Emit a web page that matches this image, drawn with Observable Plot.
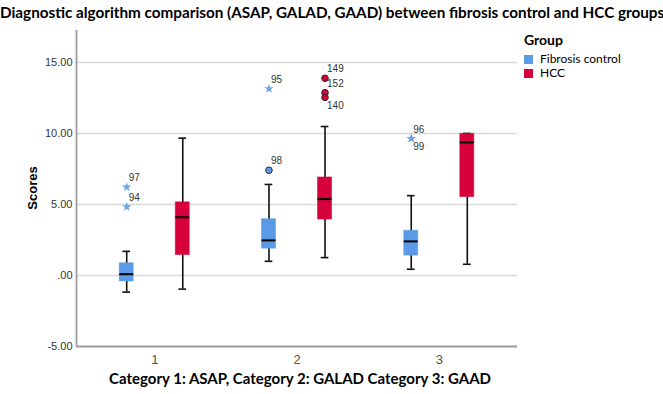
<!DOCTYPE html>
<html><head><meta charset="utf-8">
<script src="https://cdn.jsdelivr.net/npm/d3@7"></script>
<script src="https://cdn.jsdelivr.net/npm/@observablehq/plot@0.6"></script>
<style>
body{margin:0;background:#fff;}
#wrap{position:relative;width:663px;height:394px;overflow:hidden;background:#fff;}
#chart{position:absolute;left:0;top:0;}
.ov{position:absolute;white-space:nowrap;color:#000;}
#title{left:0;top:3px;width:663px;text-align:center;font:bold 15.25px Lato, "Open Sans", sans-serif;}
#xlabel{left:0;top:369px;width:600px;text-align:center;font:bold 15px Lato, "Open Sans", sans-serif;}
#ylabel{left:32px;top:188px;transform:translate(-50%,-50%) rotate(-90deg);font:bold 13px "Liberation Sans", Arial, sans-serif;}
#legend{left:524px;top:32px;font:12px Lato, "Open Sans", sans-serif;line-height:14px;}
#legend .hd{font-weight:bold;font-size:14px;line-height:16px;margin-bottom:4px;}
#legend .it{display:flex;align-items:center;height:14px;}
#legend .sw{width:9px;height:9px;margin-right:7px;flex:none;}
</style></head><body>
<div id="wrap">
<div id="chart"></div>
<div class="ov" id="title">Diagnostic algorithm comparison (ASAP, GALAD, GAAD) between fibrosis control and HCC groups</div>
<div class="ov" id="xlabel">Category 1: ASAP, Category 2: GALAD Category 3: GAAD</div>
<div class="ov" id="ylabel">Scores</div>
<div class="ov" id="legend"></div>
</div>
<script>
// ---- data ----
const categories = [1, 2, 3];
const groups = ["Fibrosis control", "HCC"];
const yTicks = [-5, 0, 5, 10, 15];

const fibLow  = [-1.17, 1.00, 0.44];
const fibQ1   = [-0.42, 1.89, 1.40];
const fibMed  = [0.09, 2.47, 2.40];
const fibQ3   = [0.86, 3.96, 3.15];
const fibHigh = [1.70, 6.41, 5.62];

const hccLow  = [-0.96, 1.26, 0.79];
const hccQ1   = [1.44, 3.94, 5.52];
const hccMed  = [4.10, 5.38, 9.37];
const hccQ3   = [5.15, 6.90, 9.97];
const hccHigh = [9.67, 10.49, 10.00];

const outlierIds   = ["97", "94", "95", "98", "149", "152", "140", "96", "99"];
const outlierCat   = [1, 1, 2, 2, 2, 2, 2, 3, 3];
const outlierGroup = ["Fibrosis control", "Fibrosis control", "Fibrosis control", "Fibrosis control", "HCC", "HCC", "HCC", "Fibrosis control", "Fibrosis control"];
const outlierValue = [6.22, 4.83, 13.15, 7.41, 13.89, 12.87, 12.54, 9.65, 9.65];
const outlierKind  = ["extreme", "extreme", "extreme", "mild", "mild", "mild", "mild", "extreme", "extreme"];

// ---- layout / style (not data) ----
const colors = {"Fibrosis control": "#5a9ae6", "HCC": "#d6003a"};
const starColor = "#6fa3e8";
const labelBelow = new Set(["140", "99"]);
const xDomain = [0.45, 3.55];
const yDomain = [-5, 17.25];
const OFF = 0.197, HALF = 0.049, CAP = 0.027;

const stats = [
  {g: groups[0], low: fibLow, q1: fibQ1, med: fibMed, q3: fibQ3, high: fibHigh},
  {g: groups[1], low: hccLow, q1: hccQ1, med: hccMed, q3: hccQ3, high: hccHigh}
];
const boxes = categories.flatMap((c, i) => stats.map(s => ({
  cat: c, group: s.g, low: s.low[i], q1: s.q1[i], med: s.med[i], q3: s.q3[i], high: s.high[i]
})));
const outliers = outlierIds.map((id, i) => ({
  id, cat: outlierCat[i], group: outlierGroup[i], value: outlierValue[i], kind: outlierKind[i]
}));
const pos = d => d.cat + (d.group === groups[0] ? -OFF : OFF);
const fmt = v => v === 0 ? ".00" : d3.format(".2f")(v).replace("\u2212", "-");

const chart = Plot.plot({
  width: 663, height: 394,
  marginLeft: 76, marginRight: 146, marginTop: 30, marginBottom: 48,
  style: {fontFamily: "'Liberation Sans', Arial, sans-serif", background: "transparent", overflow: "visible"},
  x: {domain: xDomain, axis: null},
  y: {domain: yDomain, axis: null},
  marks: [
    Plot.ruleY(yTicks.filter(t => t > yDomain[0]), {stroke: "#d9d9d9", strokeWidth: 1.5}),
    Plot.axisY({ticks: yTicks, tickSize: 0, tickPadding: 4, tickFormat: fmt, fontSize: 11, fill: "#333", label: null}),
    Plot.axisX({ticks: categories, tickSize: 0, tickPadding: 8, tickFormat: d => String(d), fontSize: 13, fill: "#555", label: null}),
    Plot.ruleX([xDomain[0]], {y1: yDomain[0], y2: yDomain[1], stroke: "#9c9c9c", strokeWidth: 1.8}),
    Plot.ruleY([yDomain[0]], {x1: xDomain[0], x2: xDomain[1], stroke: "#9c9c9c", strokeWidth: 1.8}),
    // whiskers
    Plot.ruleX(boxes, {x: pos, y1: "low", y2: "high", stroke: "#111", strokeWidth: 1.6}),
    Plot.ruleY(boxes, {y: "low", x1: d => pos(d) - CAP, x2: d => pos(d) + CAP, stroke: "#111", strokeWidth: 1.6}),
    Plot.ruleY(boxes, {y: "high", x1: d => pos(d) - CAP, x2: d => pos(d) + CAP, stroke: "#111", strokeWidth: 1.6}),
    // boxes
    Plot.rect(boxes, {x1: d => pos(d) - HALF, x2: d => pos(d) + HALF, y1: "q1", y2: "q3",
      fill: d => colors[d.group], stroke: d => colors[d.group], strokeOpacity: 0.55, strokeWidth: 1}),
    Plot.ruleY(boxes, {y: "med", x1: d => pos(d) - HALF, x2: d => pos(d) + HALF, stroke: "#000", strokeWidth: 2}),
    // outliers
    Plot.dot(outliers.filter(d => d.kind === "extreme"), {x: pos, y: "value", symbol: "star", r: 3, fill: starColor, stroke: "none"}),
    Plot.dot(outliers.filter(d => d.kind === "mild"), {x: pos, y: "value", r: 3.3, fill: d => colors[d.group], stroke: "#2a2a2a", strokeWidth: 1}),
    Plot.text(outliers.filter(d => !labelBelow.has(d.id)), {x: pos, y: "value", text: "id", textAnchor: "start", dx: 2, dy: -9, fontSize: 10, fill: "#333"}),
    Plot.text(outliers.filter(d => labelBelow.has(d.id)), {x: pos, y: "value", text: "id", textAnchor: "start", dx: 2, dy: 8, fontSize: 10, fill: "#333"})
  ]
});
document.getElementById("chart").appendChild(chart);

const leg = document.getElementById("legend");
leg.innerHTML = '<div class="hd">Group</div>' + groups.map(g =>
  `<div class="it"><span class="sw" style="background:${colors[g]}"></span>${g}</div>`).join("");
</script>
</body></html>
